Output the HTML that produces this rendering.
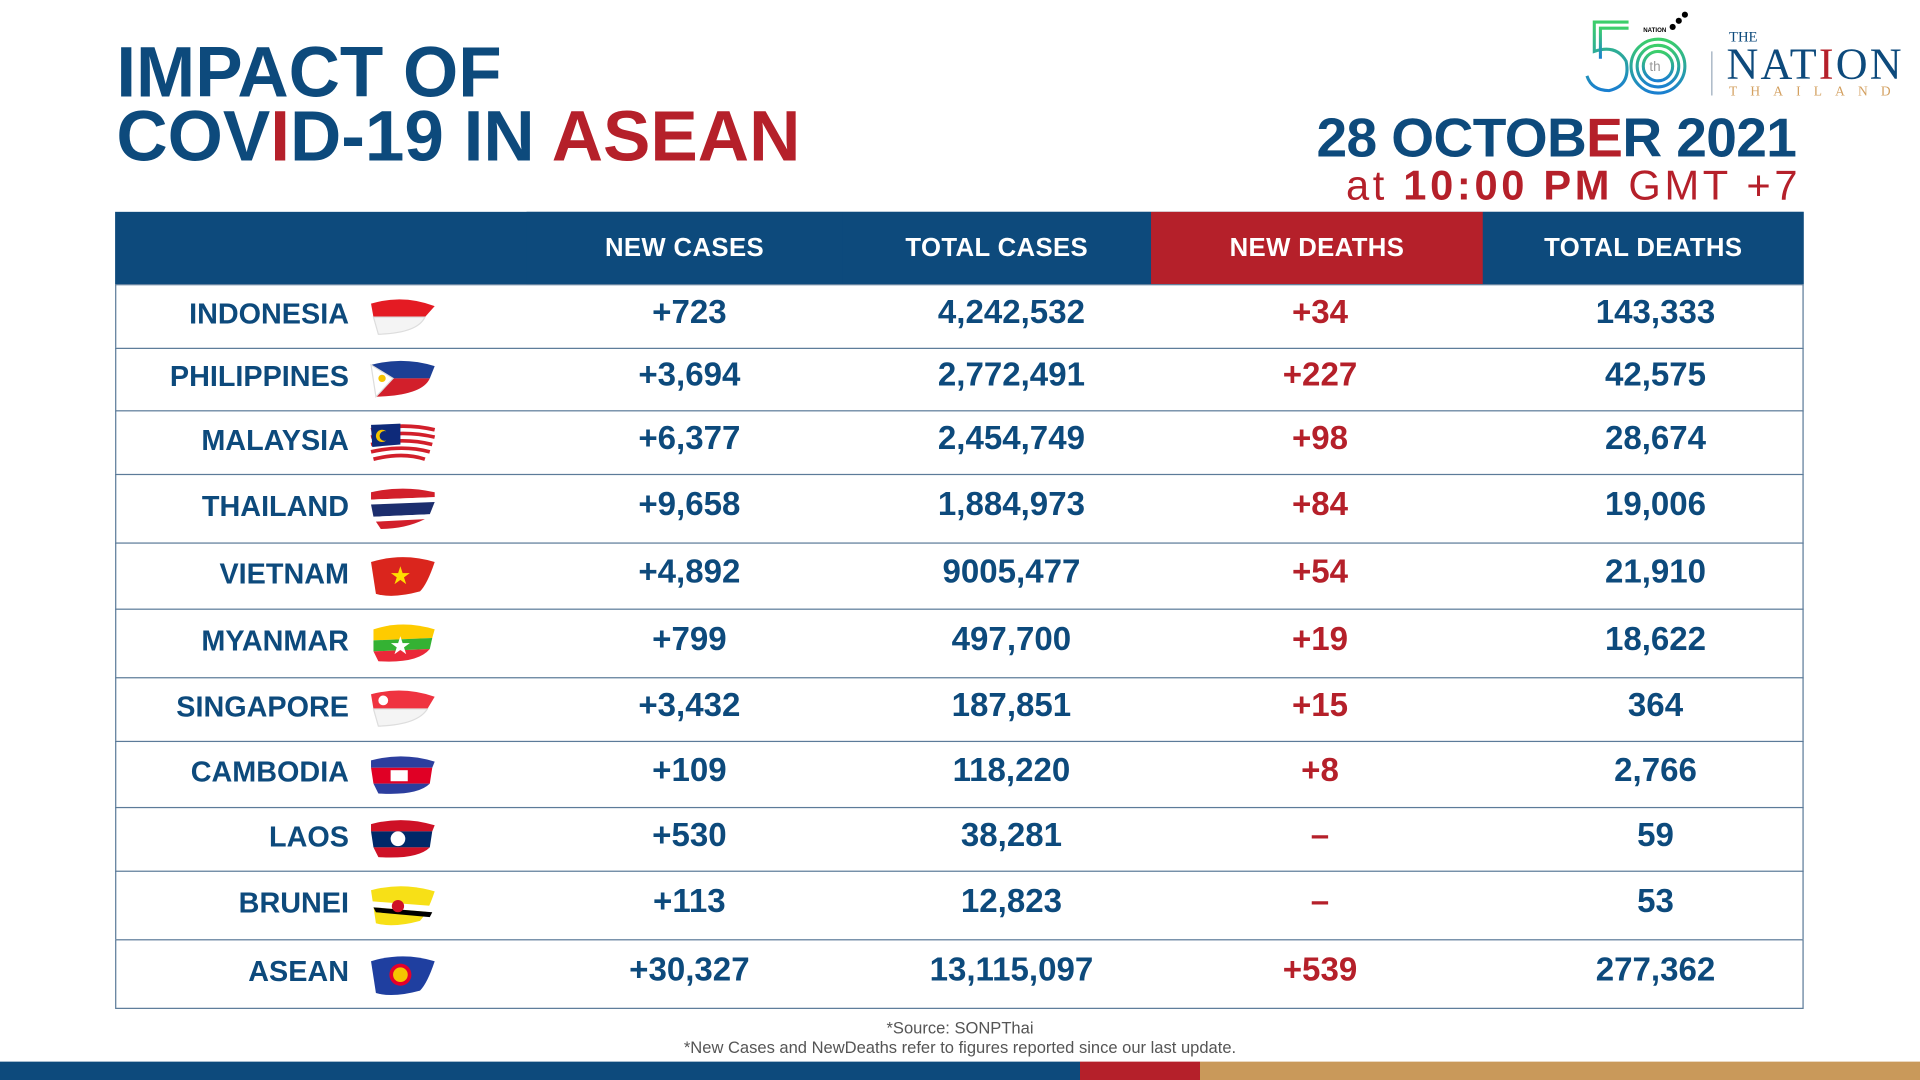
<!DOCTYPE html>
<html><head><meta charset="utf-8"><style>
html,body{margin:0;padding:0;background:#fff;width:1920px;height:1080px;overflow:hidden}
#s{position:absolute;left:0;top:0;width:1568px;height:882px;transform:scale(1.22449);transform-origin:0 0;font-family:"Liberation Sans",Arial,sans-serif;color:#0d4a7c}
.a{position:absolute}
.t{font-weight:bold;font-size:58px;letter-spacing:0px;line-height:52px}
.r{color:#b5202a}
.hd{position:absolute;top:173px;height:59px;background:#0d4a7c;color:#fff;font-weight:bold;font-size:21px;line-height:59px;text-align:center;letter-spacing:0.3px}
.row{position:relative;border-top:1px solid #5c7b99;border-left:1px solid #5c7b99;border-right:1px solid #5c7b99;box-sizing:border-box}
.row div{position:absolute;top:50%;transform:translateY(-62%);font-weight:bold;font-size:27px;text-align:center;width:240px;margin-left:-120px}
.row .n{font-size:23.5px;text-align:right;width:200px;margin-left:0;left:-10px;transform:translateY(-58%)}
</style></head><body><div id="s">
<div class="a t" style="left:95px;top:34px">IMPACT OF</div>
<div class="a t" style="left:95px;top:86px">COV<span class="r">I</span>D-19 IN <span class="r">ASEAN</span></div>
<div class="a" style="right:101px;top:87px;font-weight:bold;font-size:45px;letter-spacing:-0.5px">28 OCTOB<span class="r">E</span>R 2021</div>
<div class="a r" style="right:97px;top:133px;font-size:34px;letter-spacing:3px">at <b>10:00 PM</b> GMT +7</div>
<svg class="a" style="left:1290px;top:4px" width="270" height="80" viewBox="0 0 270 80">
<defs><linearGradient id="g" x1="0" y1="0" x2="0" y2="1"><stop offset="0" stop-color="#3ccf6a"/><stop offset="1" stop-color="#1a7fd0"/></linearGradient></defs>
<g fill="none" stroke="url(#g)" stroke-width="2.5">
<path d="M40 14 H12 V38 Q30 32 38 46 Q42 66 24 70 Q10 70 6 58"/><path d="M40 19 H17 V44"/>
<circle cx="64" cy="50" r="22"/><circle cx="64" cy="50" r="17"/><circle cx="64" cy="50" r="12"/></g>
<text x="57" y="54" font-size="11" fill="#999" font-family="Liberation Sans">th</text>
<text x="52" y="22" font-size="5" font-weight="bold" fill="#000" font-family="Liberation Sans">NATION</text>
<circle cx="76" cy="18" r="2.5"/><circle cx="81" cy="13" r="2.5"/><circle cx="86" cy="8" r="2.5"/>
<line x1="108" y1="38" x2="108" y2="74" stroke="#9ab" stroke-width="1"/>
<text x="122" y="30" font-size="12" fill="#0d4a7c" font-family="Liberation Serif">THE</text>
<text x="120" y="60" font-size="36" fill="#0d4a7c" font-family="Liberation Serif" textLength="143">NAT<tspan fill="#b5202a">I</tspan>ON</text>
<text x="122" y="74" font-size="11" fill="#d3a060" font-family="Liberation Serif" textLength="140" letter-spacing="8">THAILAND</text>
</svg>
<div class="hd" style="left:94px;width:1379px"></div>
<div class="hd" style="left:430px;width:258px">NEW CASES</div>
<div class="hd" style="left:688px;width:252px">TOTAL CASES</div>
<div class="hd" style="left:940px;width:271px;background:#b5202a">NEW DEATHS</div>
<div class="hd" style="left:1211px;width:262px">TOTAL DEATHS</div>
<div class="a" style="left:94px;top:232px;width:1379px">
<div class="row" style="height:52px"><div class="n">INDONESIA</div><svg class="a" style="left:206px;top:9px" width="56" height="34"><path d="M2 6 Q28 -2 54 8 L46 17 L4 17Z" fill="#e41b23"/><path d="M4 17 L46 17 Q40 30 8 31Z" fill="#f4f4f4" stroke="#ddd"/></svg><div style="left:468px">+723</div><div style="left:731px">4,242,532</div><div class="r" style="left:983px">+34</div><div style="left:1257px">143,333</div></div>
<div class="row" style="height:51px"><div class="n">PHILIPPINES</div><svg class="a" style="left:206px;top:8px" width="56" height="34"><path d="M2 5 Q28 -2 54 6 L50 16 L20 16Z" fill="#1c3f94"/><path d="M20 16 L50 16 Q44 30 6 31Z" fill="#d21f2b"/><path d="M2 5 L20 16 L6 31Z" fill="#fff" stroke="#ddd"/><circle cx="11" cy="16" r="3" fill="#f5c400"/></svg><div style="left:468px">+3,694</div><div style="left:731px">2,772,491</div><div class="r" style="left:983px">+227</div><div style="left:1257px">42,575</div></div>
<div class="row" style="height:52px"><div class="n">MALAYSIA</div><svg class="a" style="left:206px;top:9px" width="56" height="34"><g stroke-width="3" fill="none" stroke="#d21f2b"><path d="M2 6 Q28 0 54 6"/><path d="M2 12 Q28 6 54 12"/><path d="M2 18 Q28 12 52 18"/><path d="M2 24 Q28 18 50 24"/><path d="M4 30 Q28 24 46 30"/></g><path d="M2 2 L26 1 L26 18 L3 20Z" fill="#0e2a7a"/><circle cx="11" cy="11" r="5" fill="#f5c400"/><circle cx="13" cy="11" r="4" fill="#0e2a7a"/></svg><div style="left:468px">+6,377</div><div style="left:731px">2,454,749</div><div class="r" style="left:983px">+98</div><div style="left:1257px">28,674</div></div>
<div class="row" style="height:56px"><div class="n">THAILAND</div><svg class="a" style="left:206px;top:10px" width="56" height="36"><path d="M2 4 Q28 -2 54 4 L54 8 L2 10Z" fill="#d21f2b"/><path d="M2 10 L54 8 L52 14 L2 16Z" fill="#fff"/><path d="M2 14 L54 12 L50 22 L4 24Z" fill="#1c2e6e"/><path d="M4 24 L50 22 L46 27 L6 29Z" fill="#fff"/><path d="M6 28 L46 26 Q30 34 10 34Z" fill="#d21f2b"/></svg><div style="left:468px">+9,658</div><div style="left:731px">1,884,973</div><div class="r" style="left:983px">+84</div><div style="left:1257px">19,006</div></div>
<div class="row" style="height:54px"><div class="n">VIETNAM</div><svg class="a" style="left:206px;top:9px" width="56" height="36"><path d="M2 6 Q28 -2 54 6 Q48 24 42 30 Q20 36 6 32Z" fill="#da251d"/><text x="17" y="24" font-size="20" fill="#ffde00">★</text></svg><div style="left:468px">+4,892</div><div style="left:731px">9005,477</div><div class="r" style="left:983px">+54</div><div style="left:1257px">21,910</div></div>
<div class="row" style="height:56px"><div class="n">MYANMAR</div><svg class="a" style="left:206px;top:10px" width="56" height="36"><path d="M4 6 Q28 -2 54 6 L52 13 L4 15Z" fill="#fecb00"/><path d="M4 15 L52 13 L50 22 L4 24Z" fill="#34b233"/><path d="M4 24 L50 22 Q40 34 8 32Z" fill="#ea2839"/><text x="17" y="26" font-size="20" fill="#fff">★</text></svg><div style="left:468px">+799</div><div style="left:731px">497,700</div><div class="r" style="left:983px">+19</div><div style="left:1257px">18,622</div></div>
<div class="row" style="height:52px"><div class="n">SINGAPORE</div><svg class="a" style="left:206px;top:8px" width="56" height="34"><path d="M2 5 Q28 -2 54 7 L48 17 L4 17Z" fill="#ef3340"/><path d="M4 17 L48 17 Q40 30 8 31Z" fill="#f4f4f4" stroke="#ddd"/><circle cx="12" cy="10" r="4" fill="#fff"/></svg><div style="left:468px">+3,432</div><div style="left:731px">187,851</div><div class="r" style="left:983px">+15</div><div style="left:1257px">364</div></div>
<div class="row" style="height:54px"><div class="n">CAMBODIA</div><svg class="a" style="left:206px;top:10px" width="56" height="36"><path d="M2 5 Q28 -2 54 6 L52 11 L2 11Z" fill="#2c3e9e"/><path d="M2 11 L52 11 L50 24 L4 24Z" fill="#e00025"/><path d="M4 24 L50 24 Q40 34 8 32Z" fill="#2c3e9e"/><rect x="18" y="13" width="14" height="9" fill="#fff"/></svg><div style="left:468px">+109</div><div style="left:731px">118,220</div><div class="r" style="left:983px">+8</div><div style="left:1257px">2,766</div></div>
<div class="row" style="height:52px"><div class="n">LAOS</div><svg class="a" style="left:206px;top:8px" width="56" height="36"><path d="M2 5 Q28 -2 54 6 L52 11 L2 11Z" fill="#ce1126"/><path d="M2 11 L52 11 L50 24 L4 24Z" fill="#002868"/><path d="M4 24 L50 24 Q40 34 8 32Z" fill="#ce1126"/><circle cx="24" cy="17" r="6" fill="#fff"/></svg><div style="left:468px">+530</div><div style="left:731px">38,281</div><div class="r" style="left:983px">–</div><div style="left:1257px">59</div></div>
<div class="row" style="height:56px"><div class="n">BRUNEI</div><svg class="a" style="left:206px;top:10px" width="56" height="36"><path d="M2 5 Q28 -2 54 6 Q48 24 42 30 Q20 36 6 32Z" fill="#f7e017"/><path d="M2 14 L54 18 L52 23 L4 19Z" fill="#fff"/><path d="M4 19 L52 23 L50 27 L6 23Z" fill="#000"/><circle cx="24" cy="18" r="5" fill="#cf1126"/></svg><div style="left:468px">+113</div><div style="left:731px">12,823</div><div class="r" style="left:983px">–</div><div style="left:1257px">53</div></div>
<div class="row" style="height:57px;border-bottom:1px solid #5c7b99"><div class="n">ASEAN</div><svg class="a" style="left:206px;top:11px" width="56" height="36"><path d="M2 6 Q28 -2 54 6 Q48 24 42 30 Q20 36 6 32Z" fill="#1f3fa0"/><circle cx="26" cy="17" r="9" fill="#e4002b"/><circle cx="26" cy="17" r="6" fill="#f5c400"/></svg><div style="left:468px">+30,327</div><div style="left:731px">13,115,097</div><div class="r" style="left:983px">+539</div><div style="left:1257px">277,362</div></div>
</div>
<div class="a" style="left:0;width:1568px;top:832px;text-align:center;font-size:13.5px;color:#555;line-height:15.5px">*Source: SONPThai<br>*New Cases and NewDeaths refer to figures reported since our last update.</div>
<div class="a" style="left:0;top:867px;width:882px;height:15px;background:#0d4a7c"></div>
<div class="a" style="left:882px;top:867px;width:98px;height:15px;background:#b5202a"></div>
<div class="a" style="left:980px;top:867px;width:588px;height:15px;background:#c9995a"></div>
</div></body></html>
